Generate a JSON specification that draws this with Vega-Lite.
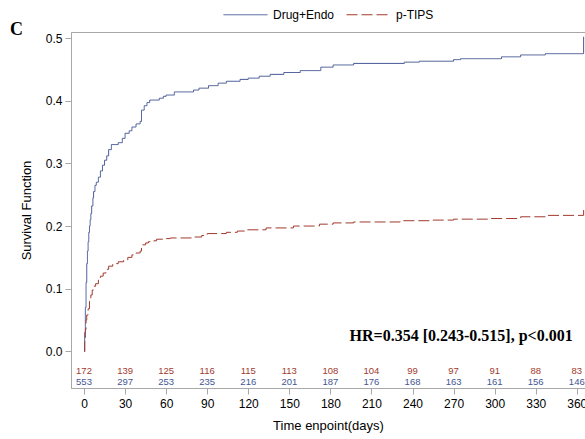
{
  "$schema": "https://vega.github.io/schema/vega-lite/v6.json",
  "width": 514,
  "height": 356,
  "autosize": {"type": "none"},
  "padding": {"left": 71, "top": 32, "right": 0, "bottom": 51},
  "background": "white",
  "title": {"text": "C", "anchor": "start", "frame": "group", "dx": -61, "dy": 51, "font": "Liberation Serif", "fontSize": 18, "fontWeight": "bold", "color": "#000000"},
  "config": {
    "font": "Liberation Sans",
    "view": {"stroke": "#a8a8a8"},
    "axis": {"domainColor": "#a8a8a8", "tickColor": "#a8a8a8", "tickSize": 6, "labelColor": "#000000", "labelFontSize": 12, "titleFontSize": 13, "titleFontWeight": "normal", "titleColor": "#000000", "grid": false, "labelPadding": 3},
    "legend": {"layout": {"top": {"anchor": "middle"}}}
  },
  "datasets": {
    "curves": [
      {"day": 0, "value": 0, "group": "Drug+Endo"},
      {"day": 0.5, "value": 0.03, "group": "Drug+Endo"},
      {"day": 1, "value": 0.07, "group": "Drug+Endo"},
      {"day": 1.5, "value": 0.11, "group": "Drug+Endo"},
      {"day": 2, "value": 0.14, "group": "Drug+Endo"},
      {"day": 2.5, "value": 0.16, "group": "Drug+Endo"},
      {"day": 3, "value": 0.175, "group": "Drug+Endo"},
      {"day": 3.5, "value": 0.19, "group": "Drug+Endo"},
      {"day": 4, "value": 0.2, "group": "Drug+Endo"},
      {"day": 4.5, "value": 0.21, "group": "Drug+Endo"},
      {"day": 5, "value": 0.22, "group": "Drug+Endo"},
      {"day": 5.6, "value": 0.232, "group": "Drug+Endo"},
      {"day": 6.5, "value": 0.245, "group": "Drug+Endo"},
      {"day": 7, "value": 0.255, "group": "Drug+Endo"},
      {"day": 8, "value": 0.265, "group": "Drug+Endo"},
      {"day": 9, "value": 0.27, "group": "Drug+Endo"},
      {"day": 10.5, "value": 0.278, "group": "Drug+Endo"},
      {"day": 12, "value": 0.288, "group": "Drug+Endo"},
      {"day": 13.5, "value": 0.297, "group": "Drug+Endo"},
      {"day": 15, "value": 0.305, "group": "Drug+Endo"},
      {"day": 16.6, "value": 0.312, "group": "Drug+Endo"},
      {"day": 18, "value": 0.322, "group": "Drug+Endo"},
      {"day": 20, "value": 0.33, "group": "Drug+Endo"},
      {"day": 25, "value": 0.333, "group": "Drug+Endo"},
      {"day": 28, "value": 0.34, "group": "Drug+Endo"},
      {"day": 30, "value": 0.348, "group": "Drug+Endo"},
      {"day": 33, "value": 0.352, "group": "Drug+Endo"},
      {"day": 35, "value": 0.358, "group": "Drug+Endo"},
      {"day": 38, "value": 0.363, "group": "Drug+Endo"},
      {"day": 41, "value": 0.367, "group": "Drug+Endo"},
      {"day": 42, "value": 0.385, "group": "Drug+Endo"},
      {"day": 44, "value": 0.392, "group": "Drug+Endo"},
      {"day": 46, "value": 0.397, "group": "Drug+Endo"},
      {"day": 48, "value": 0.401, "group": "Drug+Endo"},
      {"day": 55, "value": 0.404, "group": "Drug+Endo"},
      {"day": 58, "value": 0.407, "group": "Drug+Endo"},
      {"day": 60, "value": 0.409, "group": "Drug+Endo"},
      {"day": 66, "value": 0.414, "group": "Drug+Endo"},
      {"day": 80, "value": 0.417, "group": "Drug+Endo"},
      {"day": 84, "value": 0.42, "group": "Drug+Endo"},
      {"day": 91, "value": 0.424, "group": "Drug+Endo"},
      {"day": 98, "value": 0.428, "group": "Drug+Endo"},
      {"day": 104, "value": 0.431, "group": "Drug+Endo"},
      {"day": 114, "value": 0.434, "group": "Drug+Endo"},
      {"day": 120, "value": 0.436, "group": "Drug+Endo"},
      {"day": 128, "value": 0.439, "group": "Drug+Endo"},
      {"day": 136, "value": 0.442, "group": "Drug+Endo"},
      {"day": 146, "value": 0.445, "group": "Drug+Endo"},
      {"day": 158, "value": 0.448, "group": "Drug+Endo"},
      {"day": 173, "value": 0.4535, "group": "Drug+Endo"},
      {"day": 182, "value": 0.457, "group": "Drug+Endo"},
      {"day": 197, "value": 0.4595, "group": "Drug+Endo"},
      {"day": 234, "value": 0.4615, "group": "Drug+Endo"},
      {"day": 245, "value": 0.463, "group": "Drug+Endo"},
      {"day": 270, "value": 0.4655, "group": "Drug+Endo"},
      {"day": 275, "value": 0.467, "group": "Drug+Endo"},
      {"day": 305, "value": 0.47, "group": "Drug+Endo"},
      {"day": 319, "value": 0.473, "group": "Drug+Endo"},
      {"day": 337, "value": 0.475, "group": "Drug+Endo"},
      {"day": 365, "value": 0.502, "group": "Drug+Endo"},
      {"day": 0, "value": 0, "group": "p-TIPS"},
      {"day": 0.5, "value": 0.02, "group": "p-TIPS"},
      {"day": 1, "value": 0.035, "group": "p-TIPS"},
      {"day": 1.5, "value": 0.05, "group": "p-TIPS"},
      {"day": 2, "value": 0.058, "group": "p-TIPS"},
      {"day": 3, "value": 0.068, "group": "p-TIPS"},
      {"day": 4, "value": 0.08, "group": "p-TIPS"},
      {"day": 5, "value": 0.09, "group": "p-TIPS"},
      {"day": 6, "value": 0.098, "group": "p-TIPS"},
      {"day": 7, "value": 0.104, "group": "p-TIPS"},
      {"day": 8.5, "value": 0.108, "group": "p-TIPS"},
      {"day": 10.5, "value": 0.114, "group": "p-TIPS"},
      {"day": 12, "value": 0.12, "group": "p-TIPS"},
      {"day": 14, "value": 0.125, "group": "p-TIPS"},
      {"day": 16, "value": 0.131, "group": "p-TIPS"},
      {"day": 18, "value": 0.136, "group": "p-TIPS"},
      {"day": 21, "value": 0.14, "group": "p-TIPS"},
      {"day": 25, "value": 0.143, "group": "p-TIPS"},
      {"day": 29, "value": 0.146, "group": "p-TIPS"},
      {"day": 32, "value": 0.15, "group": "p-TIPS"},
      {"day": 35, "value": 0.154, "group": "p-TIPS"},
      {"day": 38, "value": 0.157, "group": "p-TIPS"},
      {"day": 41, "value": 0.16, "group": "p-TIPS"},
      {"day": 42, "value": 0.17, "group": "p-TIPS"},
      {"day": 45, "value": 0.173, "group": "p-TIPS"},
      {"day": 47, "value": 0.175, "group": "p-TIPS"},
      {"day": 51, "value": 0.1765, "group": "p-TIPS"},
      {"day": 53, "value": 0.179, "group": "p-TIPS"},
      {"day": 58, "value": 0.18, "group": "p-TIPS"},
      {"day": 63, "value": 0.181, "group": "p-TIPS"},
      {"day": 80, "value": 0.1825, "group": "p-TIPS"},
      {"day": 86, "value": 0.185, "group": "p-TIPS"},
      {"day": 90, "value": 0.188, "group": "p-TIPS"},
      {"day": 104, "value": 0.19, "group": "p-TIPS"},
      {"day": 112, "value": 0.192, "group": "p-TIPS"},
      {"day": 119, "value": 0.194, "group": "p-TIPS"},
      {"day": 133, "value": 0.197, "group": "p-TIPS"},
      {"day": 153, "value": 0.2, "group": "p-TIPS"},
      {"day": 172, "value": 0.203, "group": "p-TIPS"},
      {"day": 182, "value": 0.205, "group": "p-TIPS"},
      {"day": 197, "value": 0.2065, "group": "p-TIPS"},
      {"day": 231, "value": 0.2085, "group": "p-TIPS"},
      {"day": 255, "value": 0.2095, "group": "p-TIPS"},
      {"day": 270, "value": 0.211, "group": "p-TIPS"},
      {"day": 297, "value": 0.212, "group": "p-TIPS"},
      {"day": 319, "value": 0.2148, "group": "p-TIPS"},
      {"day": 338, "value": 0.217, "group": "p-TIPS"},
      {"day": 365, "value": 0.2287, "group": "p-TIPS"}
    ],
    "risk": [
      {"day": 0, "group": "p-TIPS", "n": 172},
      {"day": 30, "group": "p-TIPS", "n": 139},
      {"day": 60, "group": "p-TIPS", "n": 125},
      {"day": 90, "group": "p-TIPS", "n": 116},
      {"day": 120, "group": "p-TIPS", "n": 115},
      {"day": 150, "group": "p-TIPS", "n": 113},
      {"day": 180, "group": "p-TIPS", "n": 108},
      {"day": 210, "group": "p-TIPS", "n": 104},
      {"day": 240, "group": "p-TIPS", "n": 99},
      {"day": 270, "group": "p-TIPS", "n": 97},
      {"day": 300, "group": "p-TIPS", "n": 91},
      {"day": 330, "group": "p-TIPS", "n": 88},
      {"day": 360, "group": "p-TIPS", "n": 83},
      {"day": 0, "group": "Drug+Endo", "n": 553},
      {"day": 30, "group": "Drug+Endo", "n": 297},
      {"day": 60, "group": "Drug+Endo", "n": 253},
      {"day": 90, "group": "Drug+Endo", "n": 235},
      {"day": 120, "group": "Drug+Endo", "n": 216},
      {"day": 150, "group": "Drug+Endo", "n": 201},
      {"day": 180, "group": "Drug+Endo", "n": 187},
      {"day": 210, "group": "Drug+Endo", "n": 176},
      {"day": 240, "group": "Drug+Endo", "n": 168},
      {"day": 270, "group": "Drug+Endo", "n": 163},
      {"day": 300, "group": "Drug+Endo", "n": 161},
      {"day": 330, "group": "Drug+Endo", "n": 156},
      {"day": 360, "group": "Drug+Endo", "n": 146}
    ]
  },
  "layer": [
    {
      "data": {"name": "curves"},
      "mark": {"type": "line", "interpolate": "step-after", "strokeWidth": 1},
      "encoding": {
        "x": {"field": "day", "type": "quantitative", "scale": {"domain": [-9.5, 366], "nice": false, "zero": false},
              "axis": {"values": [0, 30, 60, 90, 120, 150, 180, 210, 240, 270, 300, 330, 360], "title": "Time enpoint(days)", "titlePadding": 10, "labelPadding": 4}},
        "y": {"field": "value", "type": "quantitative", "scale": {"domain": [-0.0584, 0.5096], "nice": false, "zero": false},
              "axis": {"values": [0, 0.1, 0.2, 0.3, 0.4, 0.5], "format": ".1f", "title": "Survival Function", "titlePadding": 12}},
        "color": {"field": "group", "type": "nominal", "scale": {"domain": ["Drug+Endo", "p-TIPS"], "range": ["#445694", "#A23A2E"]},
                  "legend": {"title": null, "orient": "top", "direction": "horizontal", "symbolType": "stroke", "symbolSize": 1936, "symbolStrokeWidth": 1, "labelFontSize": 12, "labelColor": "#000000", "labelOffset": 5, "columnPadding": 9, "offset": 11}},
        "strokeDash": {"field": "group", "type": "nominal", "scale": {"domain": ["Drug+Endo", "p-TIPS"], "range": [[1, 0], [11, 4]]}}
      }
    },
    {
      "data": {"name": "risk"},
      "transform": [{"filter": "datum.group === 'p-TIPS'"}],
      "mark": {"type": "text", "fontSize": 9.5, "align": "center", "baseline": "middle", "color": "#A23A2E"},
      "encoding": {
        "x": {"field": "day", "type": "quantitative"},
        "y": {"datum": -0.032},
        "text": {"field": "n", "type": "quantitative"}
      }
    },
    {
      "data": {"name": "risk"},
      "transform": [{"filter": "datum.group === 'Drug+Endo'"}],
      "mark": {"type": "text", "fontSize": 9.5, "align": "center", "baseline": "middle", "color": "#445694"},
      "encoding": {
        "x": {"field": "day", "type": "quantitative"},
        "y": {"datum": -0.049},
        "text": {"field": "n", "type": "quantitative"}
      }
    },
    {
      "data": {"values": [{"label": "HR=0.354 [0.243-0.515], p<0.001"}]},
      "mark": {"type": "text", "align": "right", "baseline": "middle", "font": "Liberation Serif", "fontSize": 16, "fontWeight": "bold", "color": "#000000"},
      "encoding": {
        "x": {"datum": 357},
        "y": {"datum": 0.024},
        "text": {"field": "label", "type": "nominal"}
      }
    }
  ]
}
